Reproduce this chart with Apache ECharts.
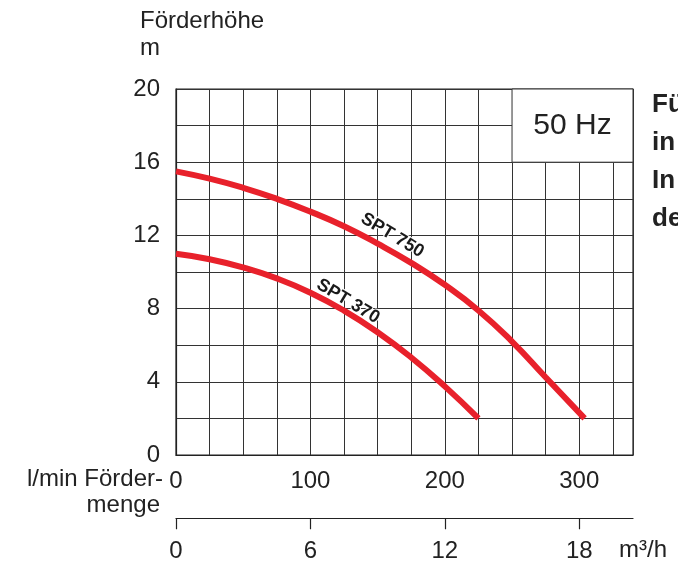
<!DOCTYPE html>
<html>
<head>
<meta charset="utf-8">
<script src="https://cdn.jsdelivr.net/npm/echarts@6/dist/echarts.min.js"></script>
<style>
  html, body { margin: 0; padding: 0; background: #fff; }
  #chart { width: 678px; height: 562px; }
</style>
</head>
<body>
<div id="chart"></div>
<script>
const flow750 = [0, 25, 50, 75, 100, 125, 150, 175, 200, 225, 250, 275, 304]
const head750 = [15.5, 15.1, 14.6, 14.0, 13.3, 12.5, 11.55, 10.5, 9.3, 7.9, 6.2, 4.25, 2.0]
const flow370 = [0, 25, 50, 75, 100, 125, 150, 175, 200, 225]
const head370 = [11.0, 10.7, 10.25, 9.65, 8.87, 7.89, 6.71, 5.33, 3.75, 2.0]
const flowTicks = [0, 100, 200, 300]
const headTicks = [0, 4, 8, 12, 16, 20]
const m3hTicks = [0, 6, 12, 18]

const FONT = 'Liberation Sans, Arial, sans-serif'
const TXT = '#222'
const RED = '#e8212b'
const GRIDC = '#333'

const pairs = (xs, ys) => xs.map((x, i) => [x, ys[i]])

const curveLabel = text => ({
  show: true, position: 'inside', rotate: -31, fontSize: 18, fontWeight: 'bold',
  color: '#1a1a1a', fontFamily: FONT, textBorderColor: '#fff', textBorderWidth: 2,
  formatter: text
})

const chart = echarts.init(document.getElementById('chart'), null, { renderer: 'canvas' })

chart.setOption({
  backgroundColor: '#fff',
  animation: false,
  textStyle: { fontFamily: FONT, color: TXT },
  grid: [
    { left: 176, top: 89, width: 457, height: 366, show: true, borderColor: '#222', borderWidth: 1.2, backgroundColor: '#fff' },
    { left: 176, top: 518, width: 457, height: 1 }
  ],
  xAxis: [
    {
      type: 'value', gridIndex: 0, min: 0, max: 340, interval: 25,
      axisLine: { show: true, lineStyle: { color: '#222', width: 1.2 } },
      axisTick: { show: false },
      splitLine: { show: true, lineStyle: { color: GRIDC, width: 1 } },
      axisLabel: {
        margin: 14, fontSize: 24, color: TXT, fontFamily: FONT,
        showMaxLabel: false,
        formatter: v => flowTicks.includes(v) ? String(v) : ''
      }
    },
    {
      type: 'value', gridIndex: 1, min: 0, max: 20.4, interval: 6,
      axisLine: { show: true, lineStyle: { color: '#222', width: 1.2 } },
      axisTick: { show: true, length: 11, lineStyle: { color: '#222', width: 1.2 } },
      splitLine: { show: false },
      axisLabel: {
        margin: 21, fontSize: 24, color: TXT, fontFamily: FONT,
        showMaxLabel: false,
        formatter: v => m3hTicks.includes(v) ? String(v) : ''
      }
    }
  ],
  yAxis: [
    {
      type: 'value', gridIndex: 0, min: 0, max: 20, interval: 2,
      axisLine: { show: true, lineStyle: { color: '#222', width: 1.2 } },
      axisTick: { show: false },
      splitLine: { show: true, lineStyle: { color: GRIDC, width: 1 } },
      axisLabel: {
        margin: 16, fontSize: 24, color: TXT, fontFamily: FONT,
        formatter: v => headTicks.includes(v) ? String(v) : ''
      }
    },
    { type: 'value', gridIndex: 1, show: false, min: 0, max: 1 }
  ],
  series: [
    {
      name: 'SPT 750', type: 'line', xAxisIndex: 0, yAxisIndex: 0,
      data: pairs(flow750, head750), smooth: true,
      showSymbol: false, symbol: 'none',
      lineStyle: { color: RED, width: 6, cap: 'butt' },
      z: 5,
      markArea: {
        silent: true,
        itemStyle: { color: '#fff', borderColor: GRIDC, borderWidth: 1 },
        label: { show: true, position: 'inside', fontSize: 30, color: TXT, fontFamily: FONT },
        data: [[{ name: '50 Hz', coord: [250, 20] }, { coord: [340, 16] }]]
      },
      markPoint: {
        silent: true, symbol: 'circle', symbolSize: 0,
        label: curveLabel('SPT 750'),
        data: [{ coord: [161, 12.0] }]
      }
    },
    {
      name: 'SPT 370', type: 'line', xAxisIndex: 0, yAxisIndex: 0,
      data: pairs(flow370, head370), smooth: true,
      showSymbol: false, symbol: 'none',
      lineStyle: { color: RED, width: 6, cap: 'butt' },
      z: 5,
      markPoint: {
        silent: true, symbol: 'circle', symbolSize: 0,
        label: curveLabel('SPT 370'),
        data: [{ coord: [128, 8.4] }]
      }
    }
  ],
  graphic: [
    { type: 'text', left: 140, top: 8, style: { text: 'Förderhöhe\nm', font: '24px ' + FONT, fill: TXT, lineHeight: 27 } },
    { type: 'text', right: 515, top: 467, style: { text: 'l/min Förder-', font: '24px ' + FONT, fill: TXT, textAlign: 'right' } },
    { type: 'text', right: 518, top: 493, style: { text: 'menge', font: '24px ' + FONT, fill: TXT, textAlign: 'right' } },
    { type: 'text', left: 619, top: 538, style: { text: 'm³/h', font: '24px ' + FONT, fill: TXT } },
    { type: 'text', left: 652, top: 86, style: { text: 'Für\nin\nIn\nde', font: 'bold 26px ' + FONT, fill: TXT, lineHeight: 38 } }
  ]
})
</script>
</body>
</html>
